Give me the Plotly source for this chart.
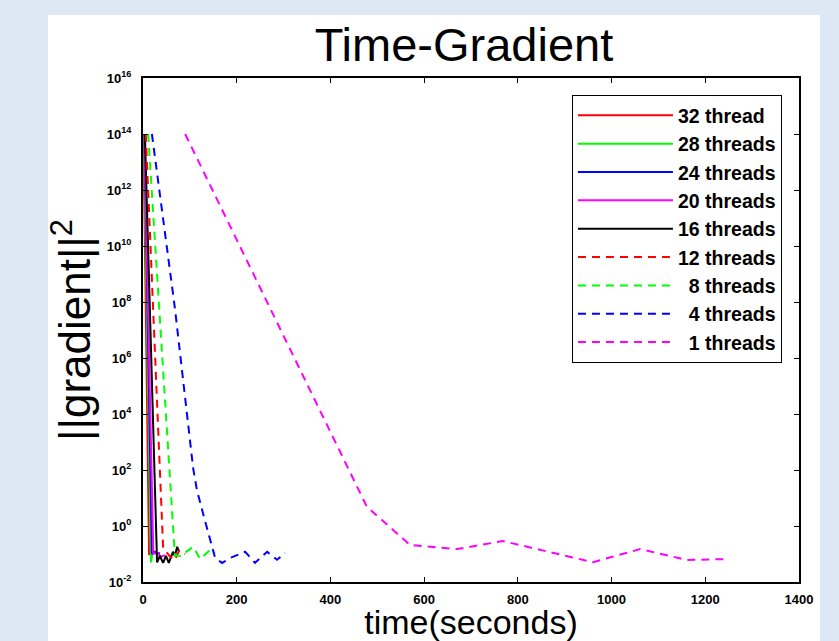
import plotly.graph_objects as go

# ---- data ----
names = ["32 thread", "28 threads", "24 threads", "20 threads", "16 threads",
         "12 threads", "\u00a0\u00a08 threads", "\u00a0\u00a04 threads", "\u00a0\u00a01 threads"]

t32 = [1, 13]
g32 = [1e14, 0.09]

t28 = [2, 17, 20]
g28 = [1e14, 0.05, 0.1]

t24 = [3, 19, 25, 31, 36]
g24 = [1e14, 0.1, 0.12, 0.1, 0.11]

t20 = [3, 22, 30, 38, 47]
g20 = [1e14, 0.1, 0.11, 0.08, 0.09]

t16 = [4, 30, 36, 43, 49, 55, 64, 68, 73, 77]
g16 = [1e14, 0.05, 0.085, 0.048, 0.085, 0.048, 0.12, 0.085, 0.18, 0.12]

t12 = [6, 43, 58, 68, 77, 90]
g12 = [1e14, 0.16, 0.08, 0.06, 0.13, 0.1]

t8 = [11, 68, 80, 107, 122, 143, 154]
g8 = [1e14, 0.09, 0.085, 0.18, 0.066, 0.14, 0.11]

t4 = [19, 68, 107, 115, 132, 154, 169, 186, 218, 239, 265, 286, 303]
g4 = [1e14, 6.2e7, 117, 19.5, 1.6, 0.072, 0.048, 0.072, 0.12, 0.048, 0.12, 0.062, 0.11]

t1 = [90, 478, 570, 670, 768, 960, 1061, 1161, 1248]
g1 = [1e14, 4.8, 0.21, 0.15, 0.29, 0.051, 0.15, 0.061, 0.066]

x_ticks = [0, 200, 400, 600, 800, 1000, 1200, 1400]
y_exps = [-2, 0, 2, 4, 6, 8, 10, 12, 14, 16]

DASH = "8px,6px"
series = [
    (t32, g32, "#ff0000", "solid"),
    (t28, g28, "#00ff00", "solid"),
    (t24, g24, "#0000ff", "solid"),
    (t20, g20, "#ff00ff", "solid"),
    (t16, g16, "#000000", "solid"),
    (t12, g12, "#ff0000", DASH),
    (t8, g8, "#00ff00", DASH),
    (t4, g4, "#0000ff", DASH),
    (t1, g1, "#ff00ff", DASH),
]

FONT = "Liberation Sans, Arial, sans-serif"

fig = go.Figure()
for (tx, gy, col, dash), nm in zip(series, names):
    fig.add_trace(go.Scatter(x=tx, y=gy, mode="lines", name=nm,
                             line=dict(color=col, width=2, dash=dash)))

fig.update_layout(
    width=839, height=641,
    margin=dict(l=143, r=40, t=78, b=59),
    paper_bgcolor="#dde8f4",
    plot_bgcolor="white",
    font=dict(family=FONT, color="black"),
    showlegend=True,
    title=dict(text="Time-Gradient", font=dict(size=47, family=FONT),
               x=0.553, xanchor="center", y=0.93, yanchor="middle"),
    legend=dict(x=0.974, xanchor="right", y=0.966, yanchor="top",
                bgcolor="white", bordercolor="black", borderwidth=1,
                font=dict(size=19.5, family=FONT, weight="bold"), tracegroupgap=0,
                itemwidth=95),
    shapes=[dict(type="rect", xref="paper", yref="paper",
                 x0=-0.1448, x1=1.032, y0=-0.2, y1=1.125,
                 fillcolor="white", line=dict(width=0), layer="below")],
)

fig.update_xaxes(
    range=[0, 1400], tickvals=x_ticks, ticktext=[str(v) for v in x_ticks],
    ticks="inside", ticklen=5, tickcolor="black", showgrid=False, zeroline=False,
    showline=True, linecolor="black", linewidth=2, mirror="ticks", automargin=False,
    tickfont=dict(size=13, weight="bold", family=FONT), ticklabelstandoff=4,
    title=dict(text="time(seconds)", font=dict(size=34, family=FONT), standoff=10),
)
fig.update_yaxes(
    type="log", range=[-2, 16],
    tickvals=[10.0 ** e for e in y_exps],
    ticktext=["10<sup>%d</sup>" % e for e in y_exps],
    ticks="inside", ticklen=5, tickcolor="black", showgrid=False, zeroline=False,
    showline=True, linecolor="black", linewidth=2, mirror="ticks", automargin=False,
    tickfont=dict(size=13, weight="bold", family=FONT), ticklabelstandoff=7,
    title=dict(text="\u00a0\u00a0||gradient||<sup>2</sup>", font=dict(size=44, family=FONT), standoff=2),
)

fig.write_html("out.html", config={"displayModeBar": False},
               post_script="document.body.style.margin='0px';")
